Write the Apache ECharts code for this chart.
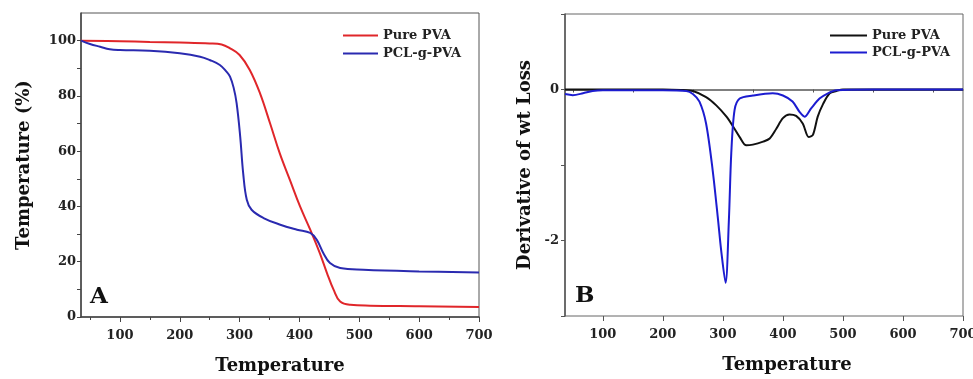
<!DOCTYPE html>
<html>
<head>
<meta charset="utf-8">
<script src="https://cdn.jsdelivr.net/npm/echarts@6/dist/echarts.min.js"></script>
<style>html,body{margin:0;padding:0;background:#fff;}#c{width:973px;height:379px;}</style>
</head>
<body>
<div id="c"></div>
<script>
// Panel A (TGA)
var A_pure_x = [35,100,150,200,250,270,284,300,317,334,351,367,384,401,418,434,446,457,468,485,518,600,700];
var A_pure_y = [100,99.8,99.5,99.3,99,98.6,97.2,94.8,89.4,81,70,59.3,49.6,40,31.6,23.1,15.9,9.9,5.6,4.4,4.1,3.9,3.6];
var A_pcl_x = [35,50,67,83,100,150,200,234,250,267,278,284,290,295,301,306,312,320,340,368,396,418,429,440,451,468,507,600,700];
var A_pcl_y = [100,98.8,97.8,96.9,96.6,96.3,95.4,94.2,93,91.2,88.8,87,83,77.4,65.3,52,42.4,38.8,35.8,33.4,31.6,30.4,27.9,23.1,19.5,17.7,17.1,16.5,16.1];
// Panel B (DTG)
var B_pure_x = [37,100,150,200,230,250,272,289,306,317,328,339,350,367,378,389,400,411,422,433,443,450,458,467,478,489,500,600,700];
var B_pure_y = [0,0,0,0,-0.005,-0.02,-0.1,-0.21,-0.36,-0.49,-0.63,-0.74,-0.73,-0.69,-0.65,-0.52,-0.38,-0.33,-0.35,-0.45,-0.63,-0.6,-0.36,-0.19,-0.05,-0.02,0,0,0];
var B_pcl_x = [37,50,67,83,100,150,200,239,250,261,272,283,292,297,304.5,310,314,319.5,328,350,383,400,416,428,436,447,461,475,489,550,600,650,700];
var B_pcl_y = [-0.06,-0.075,-0.05,-0.02,-0.01,-0.01,-0.01,-0.02,-0.06,-0.16,-0.45,-1.07,-1.73,-2.12,-2.56,-1.73,-0.84,-0.27,-0.12,-0.08,-0.05,-0.08,-0.16,-0.3,-0.36,-0.25,-0.12,-0.05,-0.01,0,0,0,0];
var seriesNames = ['Pure PVA', 'PCL-g-PVA'];
var xMajorTicks = [100,200,300,400,500,600,700];
var xMinorTicks = [50,150,250,350,450,550,650];
var xTitle = 'Temperature';
var yTitleA = 'Temperature (%)';
var yTitleB = 'Derivative of wt Loss';

function zip(xs, ys){ return xs.map(function(x,i){ return [x, ys[i]]; }); }

var FONT = '"DejaVu Serif", "Liberation Serif", serif';
var lblStyle = {fontFamily: FONT, fontWeight: 'bold', fontSize: 13, color: '#222'};
var nameStyle = {fontFamily: FONT, fontWeight: 'bold', fontSize: 18, color: '#111'};
var legendText = {fontFamily: FONT, fontWeight: 'bold', fontSize: 13, color: '#222'};

function mainX(grid, min, col, nameExtra){
  return {gridIndex: grid, type: 'value', min: min, max: 700,
    axisLine: {lineStyle: {color: col, width: 1.5}},
    axisTick: {inside: false, length: 3, customValues: xMinorTicks, lineStyle: {color: col}},
    splitLine: {show: false},
    axisLabel: Object.assign({margin: 12, customValues: xMajorTicks}, lblStyle),
    name: xTitle, nameLocation: 'middle', nameGap: 40, nameTextStyle: Object.assign({}, nameStyle, nameExtra || {})};
}
function majorX(grid, min, col){
  return {gridIndex: grid, type: 'value', min: min, max: 700, position: 'bottom',
    axisLine: {show: false},
    axisTick: {inside: false, length: 5, customValues: xMajorTicks, lineStyle: {color: col}},
    axisLabel: {show: false}, splitLine: {show: false}};
}

var chart = echarts.init(document.getElementById('c'));
chart.setOption({
  animation: false,
  backgroundColor: '#fff',
  grid: [
    {left: 81, top: 13, width: 398, height: 304, show: true, borderColor: '#555', borderWidth: 1, containLabel: false, outerBoundsMode: 'none'},
    {left: 565, top: 14, width: 398, height: 302, show: true, borderColor: '#666', borderWidth: 1, containLabel: false, outerBoundsMode: 'none'}
  ],
  xAxis: [
    mainX(0, 35, '#444'),
    mainX(1, 37, '#555', {padding: [0,0,0,46]}),
    majorX(0, 35, '#444'),
    majorX(1, 37, '#555')
  ],
  yAxis: [
    {gridIndex: 0, type: 'value', min: 0, max: 110, interval: 10,
     axisLine: {show: true, lineStyle: {color: '#444', width: 1.5}},
     axisTick: {show: true, inside: false, length: 4, lineStyle: {color: '#444'}},
     splitLine: {show: false},
     axisLabel: Object.assign({margin: 5, showMaxLabel: false, formatter: function(v){ return v % 20 === 0 ? String(v) : ''; }}, lblStyle),
     name: yTitleA, nameLocation: 'middle', nameGap: 48, nameTextStyle: nameStyle},
    {gridIndex: 1, type: 'value', min: -3, max: 1, interval: 1,
     axisLine: {show: true, lineStyle: {color: '#555', width: 1.5}},
     axisTick: {show: true, inside: false, length: 4, lineStyle: {color: '#555'}},
     splitLine: {show: false},
     axisLabel: Object.assign({margin: 6, formatter: function(v){ return (v === 0 || v === -2) ? String(v) : ''; }}, lblStyle),
     name: yTitleB, nameLocation: 'middle', nameGap: 31, nameTextStyle: nameStyle}
  ],
  legend: [
    {left: 338, top: 24, orient: 'vertical', icon: 'rect', itemWidth: 35, itemHeight: 2, itemGap: 5,
     data: [seriesNames[0], seriesNames[1]], textStyle: legendText},
    {left: 825, top: 24, orient: 'vertical', icon: 'rect', itemWidth: 37, itemHeight: 2, itemGap: 4,
     data: ['B ' + seriesNames[0], 'B ' + seriesNames[1]],
     formatter: function(n){ return n.replace(/^B /, ''); }, textStyle: legendText}
  ],
  graphic: [
    {type: 'text', left: 90, top: 286, style: {text: 'A', font: 'bold 23px ' + FONT, fill: '#111'}},
    {type: 'text', left: 575, top: 285, style: {text: 'B', font: 'bold 23px ' + FONT, fill: '#111'}}
  ],
  series: [
    {name: seriesNames[0], type: 'line', xAxisIndex: 0, yAxisIndex: 0, data: zip(A_pure_x, A_pure_y), symbol: 'none', smooth: 0.4, lineStyle: {color: '#e0262a', width: 2}, itemStyle: {color: '#e0262a'}},
    {name: seriesNames[1], type: 'line', xAxisIndex: 0, yAxisIndex: 0, data: zip(A_pcl_x, A_pcl_y), symbol: 'none', smooth: 0.4, lineStyle: {color: '#2a2ab0', width: 2}, itemStyle: {color: '#2a2ab0'}},
    {name: 'B ' + seriesNames[0], type: 'line', xAxisIndex: 1, yAxisIndex: 1, data: zip(B_pure_x, B_pure_y), symbol: 'none', smooth: 0.3, lineStyle: {color: '#111', width: 2}, itemStyle: {color: '#111'}},
    {name: 'B ' + seriesNames[1], type: 'line', xAxisIndex: 1, yAxisIndex: 1, data: zip(B_pcl_x, B_pcl_y), symbol: 'none', smooth: 0.3, lineStyle: {color: '#1c1cd0', width: 2}, itemStyle: {color: '#1c1cd0'}}
  ]
});
</script>
</body>
</html>
